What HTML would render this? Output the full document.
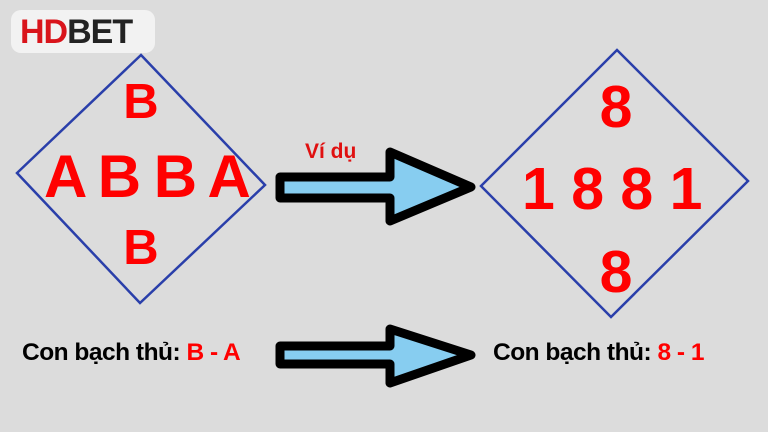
<!DOCTYPE html>
<html><head><meta charset="utf-8"><style>
body{margin:0;width:768px;height:432px;background:#dcdcdc;overflow:hidden;position:relative;font-family:"Liberation Sans",sans-serif}
.t{position:absolute;font-weight:bold;color:#f00;line-height:1;white-space:nowrap}
</style></head><body>
<svg width="768" height="432" style="position:absolute;left:0;top:0">
<rect x="11" y="10" width="144" height="43" rx="10" fill="#f2f2f2"/>
<polygon points="141,55 265,185 140,303 17,173" fill="none" stroke="#2a3faa" stroke-width="2.5"/>
<polygon points="617,50 748,181 611,317 481,186" fill="none" stroke="#2a3faa" stroke-width="2.5"/>
<polygon points="280,177 390,177 390,152 471,187 390,221 390,198 280,198" fill="#87cdf0" stroke="#000" stroke-width="9" stroke-linejoin="round"/>
<polygon points="280,346 390,346 390,329 471,355 390,383 390,364 280,364" fill="#87cdf0" stroke="#000" stroke-width="9" stroke-linejoin="round"/>
</svg>
<div class="t" style="left:20px;top:15px;font-size:34px;letter-spacing:-1px"><span style="color:#d9141b">HD</span><span style="color:#222">BET</span></div>
<div class="t" style="left:0;width:282px;text-align:center;top:78px;font-size:49px">B</div>
<div class="t" style="left:44px;top:147px;font-size:60px;word-spacing:-4px">A B B A</div>
<div class="t" style="left:0;width:282px;text-align:center;top:224px;font-size:49px">B</div>
<div class="t" style="left:305px;top:141px;font-size:21px;color:#e01010">Ví dụ</div>
<div class="t" style="left:0;width:1232px;text-align:center;top:78px;font-size:59px">8</div>
<div class="t" style="left:522px;top:160px;font-size:59px;letter-spacing:1px;word-spacing:-2px">1 8 8 1</div>
<div class="t" style="left:0;width:1232px;text-align:center;top:243px;font-size:59px">8</div>
<div class="t" style="left:22px;top:341px;font-size:24.5px;color:#000;letter-spacing:-0.5px">Con bạch thủ: <span style="color:#f00">B - A</span></div>
<div class="t" style="left:493px;top:341px;font-size:24.5px;color:#000;letter-spacing:-0.5px">Con bạch thủ: <span style="color:#f00">8 - 1</span></div>
</body></html>
